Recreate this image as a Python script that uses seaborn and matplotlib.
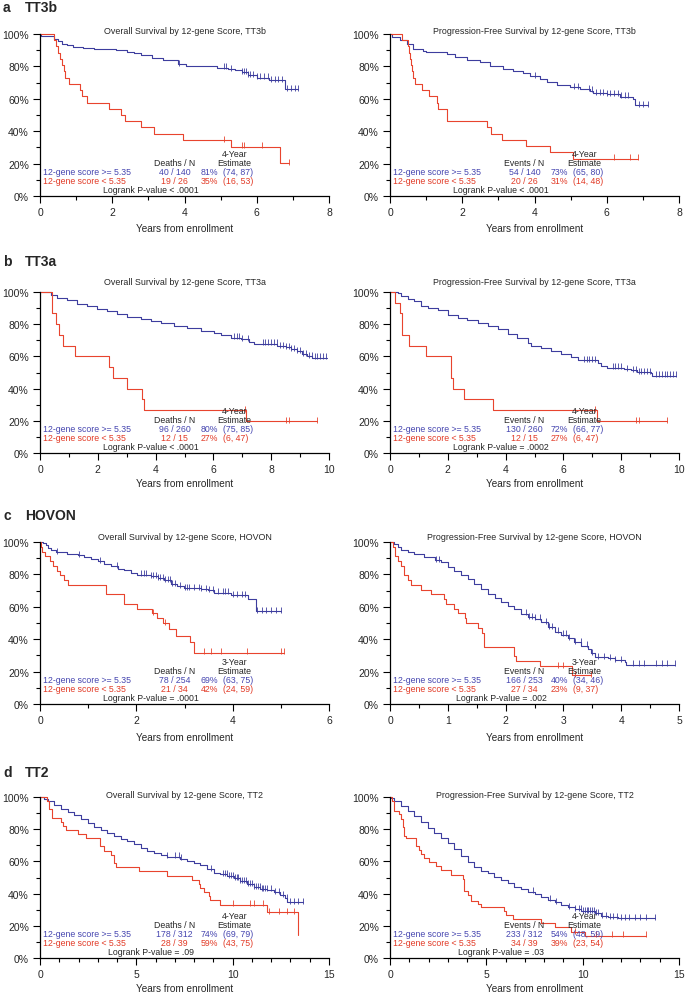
import numpy as np
import matplotlib
matplotlib.use("Agg")
import matplotlib.pyplot as plt
import seaborn as sns
from matplotlib.ticker import MultipleLocator, FuncFormatter

sns.set_style("ticks")
plt.rcParams['font.family'] = ['Liberation Sans', 'DejaVu Sans']

BLUE = '#3d3d9e'
RED = '#e8442e'
BLUE_TXT = '#4646b0'
RED_TXT = '#e23a26'

# ---- a: TT3b
os_tt3b_hi_t = [0, 0.02, 0.4, 0.5, 0.6, 0.75, 0.9, 1.2, 1.5, 1.8, 2.1, 2.4, 2.6, 2.8, 3.1, 3.4, 3.82, 4.05, 4.4, 4.9, 5.2, 5.4, 5.6, 5.75, 6.0, 6.35, 6.77, 7.14]
os_tt3b_hi_s = [100, 98.6, 97, 95.5, 94, 93, 92, 91.5, 91, 90.5, 90, 89, 88, 87, 85, 84, 81.5, 80.5, 80, 79.3, 78.5, 77.5, 76.5, 74.5, 73, 71.5, 66, 66]
os_tt3b_hi_cens = [3.85, 5.1, 5.15, 5.3, 5.6, 5.65, 5.7, 5.75, 5.8, 5.9, 6.0, 6.1, 6.2, 6.3, 6.4, 6.5, 6.6, 6.7, 6.85, 6.95, 7.05, 7.14]
os_tt3b_lo_t = [0, 0.40, 0.45, 0.50, 0.55, 0.62, 0.66, 0.70, 0.80, 1.10, 1.15, 1.30, 1.90, 2.25, 2.35, 2.80, 3.15, 3.95, 5.28, 6.63, 6.90]
os_tt3b_lo_s = [100, 96.2, 92.3, 88.5, 84.6, 80.8, 76.9, 73.1, 69.2, 65.4, 61.5, 57.7, 53.8, 50.0, 46.2, 42.3, 38.5, 34.6, 30.5, 20.3, 20.3]
os_tt3b_lo_cens = [5.1, 5.6, 5.65, 6.15, 6.9]

pfs_tt3b_hi_t = [0, 0.05, 0.28, 0.46, 0.65, 0.92, 1.0, 1.57, 1.8, 2.12, 2.5, 2.77, 3.14, 3.41, 3.69, 3.87, 4.15, 4.34, 4.61, 4.98, 5.26, 5.54, 5.63, 6.0, 6.37, 6.73, 6.78, 7.15]
pfs_tt3b_hi_s = [100, 98, 96.3, 93.8, 91, 89.7, 88.7, 87.5, 85.6, 84, 82.5, 80.4, 78.4, 77.3, 76, 74.2, 72.2, 70.1, 68.5, 67, 66, 65, 63.5, 62.9, 61.4, 59.8, 56, 56]
pfs_tt3b_hi_cens = [4.0, 5.1, 5.2, 5.5, 5.6, 5.7, 5.8, 5.9, 6.0, 6.1, 6.2, 6.3, 6.4, 6.5, 6.6, 6.9, 7.0, 7.15]
pfs_tt3b_lo_t = [0, 0.32, 0.50, 0.52, 0.55, 0.57, 0.60, 0.65, 0.70, 0.88, 1.09, 1.29, 1.33, 1.57, 1.59, 2.69, 2.79, 3.11, 3.76, 4.43, 5.07, 6.87]
pfs_tt3b_lo_s = [100, 96.2, 92.3, 88.5, 84.6, 80.8, 76.9, 73.1, 69.2, 65.4, 61.5, 57.7, 53.8, 50.0, 46.2, 42.3, 38.5, 34.6, 30.8, 26.9, 23.1, 23.1]
pfs_tt3b_lo_cens = [6.2, 6.65, 6.87]

# ---- b: TT3a
os_tt3a_hi_t = [0, 0.37, 0.6, 0.95, 1.29, 1.64, 1.98, 2.33, 2.68, 3.02, 3.48, 3.83, 4.18, 4.64, 5.1, 5.56, 6.02, 6.25, 6.6, 6.94, 7.23, 7.4, 8.21, 8.5, 8.67, 8.9, 9.08, 9.25, 9.42, 9.94]
os_tt3a_hi_s = [100, 98, 96.5, 94.8, 92.8, 91.3, 89.7, 88.2, 86.6, 84.5, 83, 82, 81, 79, 77.5, 75.8, 74.4, 73.1, 71.7, 70.7, 69.2, 68, 66.5, 65.9, 64.5, 63.4, 61.4, 60, 59.3, 59.3]
os_tt3a_hi_cens = [6.7, 6.8, 6.9, 7.0, 7.2, 7.7, 7.8, 7.9, 8.0, 8.1, 8.2, 8.3, 8.4, 8.5, 8.6, 8.7, 8.8, 8.9, 9.0, 9.1, 9.2, 9.3, 9.4, 9.5, 9.6, 9.7, 9.8, 9.9]
os_tt3a_lo_t = [0, 0.42, 0.54, 0.66, 0.81, 1.2, 2.4, 2.54, 3.02, 3.54, 3.6, 7.12, 9.6]
os_tt3a_lo_s = [100, 86.7, 80, 73.3, 66.7, 60, 53.3, 46.7, 40, 33.3, 26.7, 20, 20]
os_tt3a_lo_cens = [7.1, 8.5, 8.6, 9.6]

pfs_tt3a_hi_t = [0, 0.26, 0.38, 0.61, 0.84, 1.07, 1.3, 1.65, 1.99, 2.34, 2.68, 3.03, 3.38, 3.72, 4.07, 4.41, 4.76, 4.87, 5.22, 5.56, 5.91, 6.26, 6.49, 7.18, 7.29, 7.52, 8.1, 8.33, 8.56, 9.02, 9.08, 9.88]
pfs_tt3a_hi_s = [100, 99.4, 97.5, 95.8, 94.4, 91.3, 90.2, 88.6, 86, 84, 82.4, 80.9, 78.8, 76.8, 74, 71.5, 68.5, 66.4, 65.4, 63.3, 61.2, 59.6, 57.5, 56, 54, 53, 52.3, 51.5, 50.2, 49.8, 48.1, 48.1]
pfs_tt3a_hi_cens = [6.7, 6.8, 6.9, 7.0, 7.1, 7.7, 7.8, 7.9, 8.0, 8.2, 8.4, 8.5, 8.6, 8.7, 8.8, 8.9, 9.0, 9.2, 9.3, 9.4, 9.5, 9.6, 9.7, 9.8, 9.88]
pfs_tt3a_lo_t = [0, 0.17, 0.36, 0.40, 0.42, 0.65, 1.24, 2.10, 2.12, 2.17, 2.55, 3.58, 7.15, 9.6]
pfs_tt3a_lo_s = [100, 93.3, 86.7, 80, 73.3, 66.7, 60, 53.3, 46.7, 40, 33.3, 26.7, 20, 20]
pfs_tt3a_lo_cens = [7.1, 8.5, 8.6, 9.6]

# ---- c: HOVON
os_hovon_hi_t = [0, 0.06, 0.12, 0.16, 0.23, 0.33, 0.57, 0.78, 0.92, 1.06, 1.2, 1.33, 1.47, 1.61, 1.75, 1.89, 2.02, 2.3, 2.44, 2.58, 2.72, 2.85, 2.99, 3.34, 3.48, 3.61, 3.96, 4.31, 4.48, 5.0]
os_hovon_hi_s = [100, 99.4, 98, 96.3, 94.8, 93.8, 92.8, 91.8, 90.7, 89.7, 88.2, 86.6, 85, 83.5, 82.5, 81, 79.8, 79, 77.7, 76.3, 74.2, 72.6, 71.5, 71.1, 70.1, 68.7, 67.4, 64.9, 57.1, 57.1]
os_hovon_hi_cens = [0.35, 0.8, 1.25, 1.6, 2.1, 2.15, 2.2, 2.3, 2.35, 2.4, 2.45, 2.5, 2.55, 2.6, 2.65, 2.7, 2.75, 2.8, 2.9, 3.0, 3.05, 3.1, 3.2, 3.3, 3.35, 3.45, 3.5, 3.6, 3.7, 3.8, 3.85, 3.9, 4.0, 4.1, 4.2, 4.25, 4.5, 4.6, 4.7, 4.8, 4.9, 5.0]
os_hovon_lo_t = [0, 0.02, 0.05, 0.1, 0.2, 0.28, 0.35, 0.42, 0.5, 0.58, 1.38, 1.75, 2.02, 2.32, 2.42, 2.55, 2.68, 2.82, 3.12, 3.2, 5.07]
os_hovon_lo_s = [100, 97.1, 94.1, 91.2, 88.2, 85.3, 82.4, 79.4, 76.5, 73.5, 67.6, 61.8, 58.8, 55.9, 52.9, 49.8, 46.6, 41.8, 38.0, 31.7, 31.7]
os_hovon_lo_cens = [2.35, 2.6, 3.4, 3.55, 3.75, 4.3, 5.0, 5.07]

pfs_hovon_hi_t = [0, 0.075, 0.13, 0.19, 0.31, 0.42, 0.59, 0.77, 0.88, 1.0, 1.11, 1.23, 1.35, 1.46, 1.58, 1.69, 1.81, 1.92, 2.04, 2.15, 2.27, 2.38, 2.5, 2.62, 2.73, 2.85, 2.96, 3.08, 3.19, 3.31, 3.42, 3.48, 3.54, 3.77, 3.89, 4.06, 4.09, 4.93]
pfs_hovon_hi_s = [100, 99, 96.9, 94.8, 93.8, 92.4, 90.7, 88.7, 87.6, 84.5, 81.9, 79.8, 76.9, 74.2, 71.1, 68, 65.4, 62.9, 60.8, 58.8, 55.7, 53.6, 52.6, 50.5, 47.4, 44.7, 42.9, 40.6, 38.1, 36.1, 34, 31.5, 28.9, 28.2, 27.2, 26.2, 24.3, 24.3]
pfs_hovon_hi_cens = [0.8, 0.85, 2.35, 2.4, 2.45, 2.5, 2.6, 2.7, 2.75, 2.8, 2.9, 3.0, 3.05, 3.1, 3.2, 3.3, 3.4, 3.5, 3.6, 3.7, 3.8, 3.9, 4.0, 4.2, 4.3, 4.4, 4.6, 4.7, 4.8, 4.93]
pfs_hovon_lo_t = [0, 0.05, 0.09, 0.13, 0.19, 0.25, 0.31, 0.36, 0.54, 0.71, 0.94, 0.97, 1.11, 1.18, 1.29, 1.31, 1.52, 1.60, 1.62, 2.15, 2.18, 2.60, 3.15, 3.48]
pfs_hovon_lo_s = [100, 97.1, 91.2, 88.2, 85.3, 79.4, 76.5, 73.5, 70.6, 67.6, 64.7, 61.8, 58.8, 55.9, 52.9, 50.0, 47.1, 44.1, 35.3, 29.4, 26.5, 23.5, 17.6, 17.6]
pfs_hovon_lo_cens = [2.9, 3.0, 3.2, 3.48]

# ---- d: TT2
os_tt2_hi_t = [0, 0.22, 0.4, 0.74, 1.09, 1.43, 1.78, 2.12, 2.47, 2.81, 3.16, 3.5, 3.84, 4.19, 4.53, 4.88, 5.22, 5.57, 5.91, 6.26, 6.6, 7.29, 7.64, 7.98, 8.33, 8.67, 9.02, 9.36, 9.71, 10.05, 10.4, 10.74, 11.09, 11.43, 11.78, 12.12, 12.47, 12.72, 12.81, 13.67]
os_tt2_hi_s = [100, 99, 97.5, 94.8, 92.4, 90.7, 88.6, 86.6, 84.1, 81.6, 79.5, 77.5, 75.8, 74.2, 72.7, 70.7, 68.6, 66.5, 65.1, 63.8, 63, 61.8, 60.3, 58.9, 57.6, 55.2, 53.1, 52.1, 51, 49.4, 47.9, 45.9, 43.8, 42.8, 42.4, 40.7, 39, 37, 34.9, 34.9]
os_tt2_hi_cens = [6.6, 7.0, 7.2, 7.3, 8.9, 9.5, 9.6, 9.7, 9.8, 9.9, 10.0, 10.1, 10.2, 10.3, 10.4, 10.5, 10.6, 10.7, 10.8, 10.9, 11.0, 11.1, 11.2, 11.3, 11.4, 11.5, 11.6, 11.7, 11.8, 12.0, 12.2, 12.4, 12.6, 12.8, 13.0, 13.2, 13.4, 13.67]
os_tt2_lo_t = [0, 0.35, 0.48, 0.6, 1.09, 1.2, 1.34, 1.95, 2.38, 3.1, 3.33, 3.67, 3.84, 3.93, 5.14, 6.6, 7.9, 8.24, 8.33, 8.5, 8.76, 8.84, 9.36, 11.78, 13.41]
os_tt2_lo_s = [100, 97.4, 92.3, 87.2, 84.6, 82.1, 79.5, 76.9, 74.4, 69.6, 66.7, 64.1, 59.0, 56.4, 53.8, 51.2, 48.7, 46.1, 43.5, 40.9, 38.3, 35.8, 33.2, 28.4, 14.2]
os_tt2_lo_cens = [10.0, 10.9, 11.1, 11.6, 11.9, 12.4, 12.8, 13.2]

pfs_tt2_hi_t = [0, 0.05, 0.23, 0.57, 0.92, 1.27, 1.61, 1.96, 2.3, 2.65, 3.0, 3.34, 3.69, 4.04, 4.38, 4.73, 5.08, 5.42, 5.77, 6.12, 6.46, 6.81, 7.16, 7.5, 7.85, 8.2, 8.54, 8.89, 9.24, 9.58, 9.93, 10.28, 10.62, 10.97, 11.32, 11.84, 13.05, 13.74]
pfs_tt2_hi_s = [100, 99.5, 97.5, 94.4, 91.3, 88.2, 84.5, 81, 77.5, 74.8, 71.7, 67.6, 63.4, 59.7, 56.8, 54.1, 52.5, 50.6, 48.6, 46.5, 44.4, 42.8, 41.3, 39.7, 37.6, 36.2, 34.5, 33.1, 31.8, 30.4, 29.3, 28.9, 27.9, 26.2, 25.2, 24.8, 24.6, 24.6]
pfs_tt2_hi_cens = [7.4, 8.3, 8.6, 9.3, 9.6, 9.8, 9.9, 10.0, 10.1, 10.2, 10.3, 10.4, 10.5, 10.6, 10.7, 10.8, 11.0, 11.2, 11.4, 11.6, 11.8, 12.0, 12.2, 12.4, 12.7, 13.0, 13.3, 13.74]
pfs_tt2_lo_t = [0, 0.1, 0.23, 0.49, 0.57, 0.66, 0.75, 0.83, 1.35, 1.52, 1.61, 1.78, 2.04, 2.39, 2.65, 3.17, 3.78, 3.86, 4.04, 4.21, 4.56, 4.73, 5.94, 6.03, 6.38, 7.85, 8.54, 9.41, 10.1, 13.3]
pfs_tt2_lo_s = [100, 97.4, 91.3, 89.7, 86.2, 81.6, 75.8, 74.8, 69.6, 67, 64.5, 62.4, 59.7, 57.2, 54.5, 51.7, 49, 41.7, 39, 35.5, 33.5, 31.4, 29.3, 26.9, 24.2, 21.7, 19, 15.9, 13.8, 13.8]
pfs_tt2_lo_cens = [9.6, 10.7, 11.5, 12.1, 13.3]

# table text
row_labels = ['12-gene score >= 5.35', '12-gene score < 5.35']
counts = {
    'os_tt3b': ['40 / 140', '19 / 26'], 'pfs_tt3b': ['54 / 140', '20 / 26'],
    'os_tt3a': ['96 / 260', '12 / 15'], 'pfs_tt3a': ['130 / 260', '12 / 15'],
    'os_hovon': ['78 / 254', '21 / 34'], 'pfs_hovon': ['166 / 253', '27 / 34'],
    'os_tt2': ['178 / 312', '28 / 39'], 'pfs_tt2': ['233 / 312', '34 / 39'],
}
estimates = {
    'os_tt3b': [('81%', '(74, 87)'), ('35%', '(16, 53)')],
    'pfs_tt3b': [('73%', '(65, 80)'), ('31%', '(14, 48)')],
    'os_tt3a': [('80%', '(75, 85)'), ('27%', '(6, 47)')],
    'pfs_tt3a': [('72%', '(66, 77)'), ('27%', '(6, 47)')],
    'os_hovon': [('69%', '(63, 75)'), ('42%', '(24, 59)')],
    'pfs_hovon': [('40%', '(34, 46)'), ('23%', '(9, 37)')],
    'os_tt2': [('74%', '(69, 79)'), ('59%', '(43, 75)')],
    'pfs_tt2': [('54%', '(48, 59)'), ('39%', '(23, 54)')],
}
pvalues = {
    'os_tt3b': '< .0001', 'pfs_tt3b': '< .0001', 'os_tt3a': '< .0001', 'pfs_tt3a': '= .0002',
    'os_hovon': '= .0001', 'pfs_hovon': '= .002', 'os_tt2': '= .09', 'pfs_tt2': '= .03',
}

studies = ['TT3b', 'TT3a', 'HOVON', 'TT2']
letters = ['a', 'b', 'c', 'd']
est_year = ['4-Year', '4-Year', '3-Year', '4-Year']
# axis range, major step, minor step per panel
x_axis = {
    'os_tt3b': (8, 2, 1), 'pfs_tt3b': (8, 2, 1),
    'os_tt3a': (10, 2, 1), 'pfs_tt3a': (10, 2, 1),
    'os_hovon': (6, 2, 1), 'pfs_hovon': (5, 1, 0.5),
    'os_tt2': (15, 5, 1), 'pfs_tt2': (15, 5, 1),
}

curves = {
    'os_tt3b': (os_tt3b_hi_t, os_tt3b_hi_s, os_tt3b_hi_cens, os_tt3b_lo_t, os_tt3b_lo_s, os_tt3b_lo_cens),
    'pfs_tt3b': (pfs_tt3b_hi_t, pfs_tt3b_hi_s, pfs_tt3b_hi_cens, pfs_tt3b_lo_t, pfs_tt3b_lo_s, pfs_tt3b_lo_cens),
    'os_tt3a': (os_tt3a_hi_t, os_tt3a_hi_s, os_tt3a_hi_cens, os_tt3a_lo_t, os_tt3a_lo_s, os_tt3a_lo_cens),
    'pfs_tt3a': (pfs_tt3a_hi_t, pfs_tt3a_hi_s, pfs_tt3a_hi_cens, pfs_tt3a_lo_t, pfs_tt3a_lo_s, pfs_tt3a_lo_cens),
    'os_hovon': (os_hovon_hi_t, os_hovon_hi_s, os_hovon_hi_cens, os_hovon_lo_t, os_hovon_lo_s, os_hovon_lo_cens),
    'pfs_hovon': (pfs_hovon_hi_t, pfs_hovon_hi_s, pfs_hovon_hi_cens, pfs_hovon_lo_t, pfs_hovon_lo_s, pfs_hovon_lo_cens),
    'os_tt2': (os_tt2_hi_t, os_tt2_hi_s, os_tt2_hi_cens, os_tt2_lo_t, os_tt2_lo_s, os_tt2_lo_cens),
    'pfs_tt2': (pfs_tt2_hi_t, pfs_tt2_hi_s, pfs_tt2_hi_cens, pfs_tt2_lo_t, pfs_tt2_lo_s, pfs_tt2_lo_cens),
}

W, H = 685, 995
fig = plt.figure(figsize=(W / 100, H / 100), dpi=100)

# pixel layout: (top, bottom) of each row, title y, label y, xlabel y
rows_px = [(35, 197), (293, 454), (543, 705), (798, 959)]
title_px = [31, 283, 537, 796]
letter_px = [8, 262, 516, 773]
xlab_px = [229, 484, 738, 989]
cols_px = [(40, 329), (390, 679)]


def surv_at(t, s, c):
    idx = np.searchsorted(np.asarray(t), np.asarray(c), side='right') - 1
    return np.asarray(s)[idx]


def draw_km(ax, t, s, cens, color):
    sns.lineplot(x=t, y=s, drawstyle='steps-post', color=color, linewidth=0.8,
                 ax=ax, clip_on=False, errorbar=None)
    ax.plot(cens, surv_at(t, s, cens) + 0.8, linestyle='none', marker='|',
            markersize=4, markeredgewidth=0.6, color=color, clip_on=False)


for r in range(4):
    top, bot = rows_px[r]
    fig.text(3 / W, 1 - letter_px[r] / H, letters[r], fontsize=10, fontweight='bold', va='center')
    fig.text(25 / W, 1 - letter_px[r] / H, studies[r], fontsize=10, fontweight='bold', va='center')
    for c, kind in enumerate(['os', 'pfs']):
        key = f'{kind}_{studies[r].lower()}'
        left, right = cols_px[c]
        ax = fig.add_axes([left / W, 1 - bot / H, (right - left) / W, (bot - top) / H])
        hi_t, hi_s, hi_c, lo_t, lo_s, lo_c = curves[key]
        draw_km(ax, hi_t, hi_s, hi_c, BLUE)
        draw_km(ax, lo_t, lo_s, lo_c, RED)

        xmax, xmaj, xmin = x_axis[key]
        ax.set_xlim(0, xmax)
        ax.set_ylim(0, 100)
        ax.xaxis.set_major_locator(MultipleLocator(xmaj))
        ax.xaxis.set_minor_locator(MultipleLocator(xmin))
        ax.yaxis.set_major_locator(MultipleLocator(20))
        ax.yaxis.set_minor_locator(MultipleLocator(10))
        ax.yaxis.set_major_formatter(FuncFormatter(lambda v, p: f'{v:.0f}%'))
        ax.tick_params(which='major', length=5, width=0.8, labelsize=7.5, pad=3, color='black')
        ax.tick_params(which='minor', length=3, width=0.8, color='black')
        for sp in ['top', 'right']:
            ax.spines[sp].set_visible(False)
        for sp in ['left', 'bottom']:
            ax.spines[sp].set_linewidth(0.9)
            ax.spines[sp].set_color('black')
        ax.set_xlabel('')
        ax.set_ylabel('')

        name = 'Overall Survival' if kind == 'os' else 'Progression-Free Survival'
        fig.text((left + right) / 2 / W, 1 - title_px[r] / H,
                 f'{name} by 12-gene Score, {studies[r]}', fontsize=6.4, ha='center', va='center')
        fig.text((left + right) / 2 / W, 1 - xlab_px[r] / H, 'Years from enrollment',
                 fontsize=7.2, ha='center', va='center')

        tr = ax.transAxes
        fs = 6.3
        ax.text(0.672, 0.263, est_year[r], transform=tr, fontsize=fs, ha='center', va='center')
        ax.text(0.672, 0.208, 'Estimate', transform=tr, fontsize=fs, ha='center', va='center')
        ax.text(0.465, 0.208, 'Deaths / N' if kind == 'os' else 'Events / N', transform=tr,
                fontsize=fs, ha='center', va='center')
        for i, (ypos, col) in enumerate([(0.15, BLUE_TXT), (0.094, RED_TXT)]):
            ax.text(0.009, ypos, row_labels[i], transform=tr, fontsize=fs, color=col, va='center')
            ax.text(0.465, ypos, counts[key][i], transform=tr, fontsize=fs, color=col,
                    ha='center', va='center')
            ax.text(0.615, ypos, estimates[key][i][0], transform=tr, fontsize=fs, color=col,
                    ha='right', va='center')
            ax.text(0.632, ypos, estimates[key][i][1], transform=tr, fontsize=fs, color=col,
                    ha='left', va='center')
        ax.text(0.385, 0.043, f'Logrank P-value {pvalues[key]}', transform=tr, fontsize=fs,
                ha='center', va='center')

fig.savefig('out.png', dpi=100)
